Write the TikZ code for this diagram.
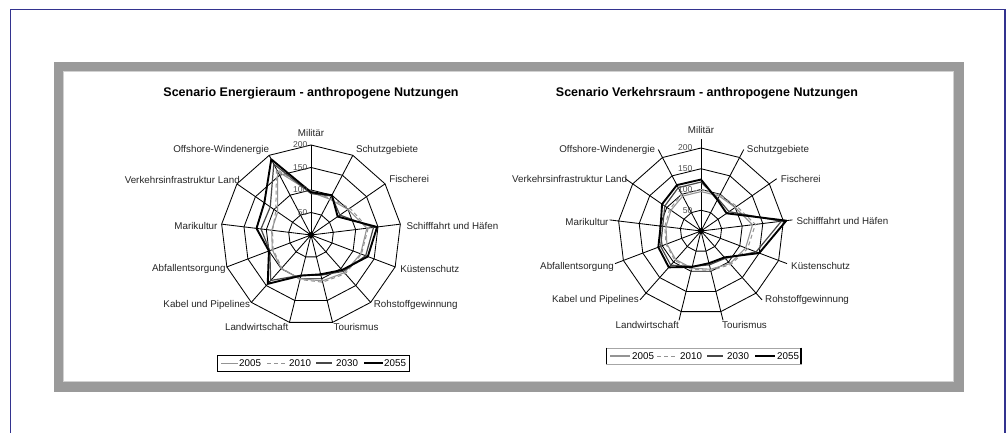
\documentclass[tikz,border=0pt]{standalone}
\usepackage{fontspec}
\setmainfont{Liberation Sans}
\definecolor{frameblue}{HTML}{33338F}
\definecolor{framegray}{HTML}{9A9A9A}
\tikzset{
  gridline/.style={black, line width=0.85pt, line join=round},
  ser2005/.style={black!42, line width=1.1pt, line join=round},
  ser2010/.style={black!42, line width=1.0pt, dash pattern=on 4pt off 3pt},
  ser2030/.style={black!72, line width=1.2pt, line join=round},
  ser2055/.style={black, line width=1.9pt, line join=round},
  axlab/.style={font=\fontsize{9.8}{10}\selectfont, inner sep=1pt, text=black!85},
  ticklab/.style={font=\fontsize{8.5}{8.5}\selectfont, inner sep=0.5pt, text=black!70, anchor=east},
  charttitle/.style={font=\bfseries\fontsize{12.5}{13}\selectfont, inner sep=0pt},
  legtext/.style={font=\fontsize{9.8}{10}\selectfont, inner sep=0pt, anchor=west},
}
\newcommand\radarpoly[4]{%
  \foreach \v [count=\k from 0] in {#4} { \coordinate (#2\k) at (-90+\k*360/13:\v*#3); }
  \draw[#1] (#20)--(#21)--(#22)--(#23)--(#24)--(#25)--(#26)--(#27)--(#28)--(#29)--(#210)--(#211)--(#212)--cycle;
}
\begin{document}
\begin{tikzpicture}[x=1pt,y=-1pt]
\useasboundingbox (0,0) rectangle (1008,433);
% outer blue frame
\draw[frameblue, line width=1.4pt] (10.5,433) -- (10.5,9.5) -- (1005,9.5) -- (1005,433);
% gray frame
\fill[framegray] (54,62) rectangle (964,392);
\fill[white] (63,71) rectangle (954,382);
\draw[black!18, line width=1pt] (63.5,71.5) rectangle (953.5,381.5);

% ================= LEFT CHART =================
\node[charttitle] (tL) at (311,93) {Scenario Energieraum - anthropogene Nutzungen};
\begin{scope}[shift={(311,235)}]
  \coordinate (cL) at (0,0);
  \foreach \r in {50,100,150,200} {
    \radarpoly{gridline}{gL\r-}{0.45}{\r,\r,\r,\r,\r,\r,\r,\r,\r,\r,\r,\r,\r}
  }
  \foreach \k in {0,...,12} {
    \coordinate (aL\k) at (-90+\k*360/13:90);
    \draw[gridline] (cL) -- (aL\k);
  }
  \radarpoly{ser2005}{pLa}{0.45}{95,90,100,125,118,112,105,100,100,92,88,90,160}
  \radarpoly{ser2010}{pLb}{0.45}{98,92,105,128,120,115,108,102,98,90,86,95,165}
  \radarpoly{ser2030}{pLc}{0.45}{92,98,78,140,130,108,92,92,135,98,112,110,178}
  \radarpoly{ser2055}{pLd}{0.45}{95,100,72,148,135,104,90,93,145,100,122,126,190}
  \fill (cL) circle (3pt);
  \node[ticklab] (tkL200) at (-3,-90) {200};
  \node[ticklab] (tkL150) at (-3,-67.5) {150};
  \node[ticklab] (tkL100) at (-3,-45) {100};
  \node[ticklab] (tkL50) at (-3,-22.5) {50};
  \node[axlab, anchor=south] (lL0) at (-90:97) {Militär};
  \node[axlab, anchor=south west, xshift=2] (lL1) at (aL1) {Schutzgebiete};
  \node[axlab, anchor=south west, xshift=3] (lL2) at (aL2) {Fischerei};
  \node[axlab, anchor=west, xshift=5, yshift=-2] (lL3) at (aL3) {Schifffahrt und Häfen};
  \node[axlab, anchor=west, xshift=4, yshift=-2] (lL4) at (aL4) {Küstenschutz};
  \node[axlab, anchor=west, xshift=2, yshift=-3] (lL5) at (aL5) {Rohstoffgewinnung};
  \node[axlab, anchor=north west] (lL6) at (aL6) {Tourismus};
  \node[axlab, anchor=north east] (lL7) at (aL7) {Landwirtschaft};
  \node[axlab, anchor=east, yshift=-3] (lL8) at (aL8) {Kabel und Pipelines};
  \node[axlab, anchor=east, yshift=-2] (lL9) at (aL9) {Abfallentsorgung};
  \node[axlab, anchor=east, xshift=-3, yshift=-2] (lL10) at (aL10) {Marikultur};
  \node[axlab, anchor=east, xshift=4, yshift=4] (lL11) at (aL11) {Verkehrsinfrastruktur Land};
  \node[axlab, anchor=south east, xshift=1] (lL12) at (aL12) {Offshore-Windenergie};
\end{scope}
% left legend
\draw[black, line width=0.8pt] (217,355) rectangle (409,371);
\draw[black, line width=1.3pt] (409.6,356) -- (409.6,371.6) -- (218,371.6);
\coordinate (lgLa1) at (221,363); \coordinate (lgLa2) at (238,363);
\coordinate (lgLb1) at (267,363); \coordinate (lgLb2) at (287,363);
\coordinate (lgLc1) at (316,363); \coordinate (lgLc2) at (332,363);
\coordinate (lgLd1) at (364,363); \coordinate (lgLd2) at (383,363);
\draw[ser2005, line width=0.9pt] (lgLa1) -- (lgLa2);
\draw[ser2010] (lgLb1) -- (lgLb2);
\draw[ser2030] (lgLc1) -- (lgLc2);
\draw[ser2055] (lgLd1) -- (lgLd2);
\node[legtext] (ltLa) at (239,363) {2005};
\node[legtext] (ltLb) at (289,363) {2010};
\node[legtext] (ltLc) at (336,363) {2030};
\node[legtext] (ltLd) at (384,363) {2055};

% ================= RIGHT CHART =================
\node[charttitle] (tR) at (707,93) {Scenario Verkehrsraum - anthropogene Nutzungen};
\begin{scope}[shift={(701,231)}]
  \coordinate (cR) at (0,0);
  \foreach \r in {50,100,150,200} {
    \radarpoly{gridline}{gR\r-}{0.415}{\r,\r,\r,\r,\r,\r,\r,\r,\r,\r,\r,\r,\r}
  }
  \foreach \k in {0,...,12} {
    \coordinate (aR\k) at (-90+\k*360/13:92);
    \draw[gridline] (cR) -- (aR\k);
  }
  \radarpoly{ser2005}{pRa}{0.415}{95,95,100,125,115,105,95,92,92,88,85,88,95}
  \radarpoly{ser2010}{pRb}{0.415}{100,98,105,132,120,108,98,95,95,90,88,92,100}
  \radarpoly{ser2030}{pRc}{0.415}{118,88,82,195,142,88,84,88,110,104,93,106,118}
  \radarpoly{ser2055}{pRd}{0.415}{124,85,75,207,150,85,80,89,117,110,98,114,125}
  \fill (cR) circle (3pt);
  \node[ticklab] (tkR200) at (-8,-83) {200};
  \node[ticklab] (tkR150) at (-8,-62.25) {150};
  \node[ticklab] (tkR100) at (-8,-41.5) {100};
  \node[ticklab] (tkR50) at (-8,-20.75) {50};
  \node[axlab, anchor=south] (lR0) at (-90:96) {Militär};
  \node[axlab, anchor=west, xshift=2] (lR1) at (aR1) {Schutzgebiete};
  \node[axlab, anchor=west, xshift=3] (lR2) at (aR2) {Fischerei};
  \node[axlab, anchor=west, xshift=3, yshift=-1] (lR3) at (aR3) {Schifffahrt und Häfen};
  \node[axlab, anchor=west, xshift=3, yshift=-2] (lR4) at (aR4) {Küstenschutz};
  \node[axlab, anchor=west, xshift=2] (lR5) at (aR5) {Rohstoffgewinnung};
  \node[axlab, anchor=north west, xshift=-2] (lR6) at (aR6) {Tourismus};
  \node[axlab, anchor=north east, xshift=1] (lR7) at (aR7) {Landwirtschaft};
  \node[axlab, anchor=east] (lR8) at (aR8) {Kabel und Pipelines};
  \node[axlab, anchor=east, yshift=-3] (lR9) at (aR9) {Abfallentsorgung};
  \node[axlab, anchor=east, yshift=-2] (lR10) at (aR10) {Marikultur};
  \node[axlab, anchor=east, xshift=3] (lR11) at (aR11) {Verkehrsinfrastruktur Land};
  \node[axlab, anchor=east, xshift=-2] (lR12) at (aR12) {Offshore-Windenergie};
\end{scope}
% right legend
\draw[black!35, line width=0.8pt] (606,348) rectangle (801,364);
\draw[black, line width=1pt] (606,347.6) -- (606,364.4);
\draw[black, line width=1.2pt] (801,347.6) -- (801,364.4);
\coordinate (lgRa1) at (610,356); \coordinate (lgRa2) at (630,356);
\coordinate (lgRb1) at (657,356); \coordinate (lgRb2) at (677,356);
\coordinate (lgRc1) at (707,356); \coordinate (lgRc2) at (723,356);
\coordinate (lgRd1) at (755,356); \coordinate (lgRd2) at (775,356);
\draw[ser2005, line width=1.6pt] (lgRa1) -- (lgRa2);
\draw[ser2010] (lgRb1) -- (lgRb2);
\draw[ser2030] (lgRc1) -- (lgRc2);
\draw[ser2055] (lgRd1) -- (lgRd2);
\node[legtext] (ltRa) at (632,356) {2005};
\node[legtext] (ltRb) at (680,356) {2010};
\node[legtext] (ltRc) at (727,356) {2030};
\node[legtext] (ltRd) at (777,356) {2055};
\end{tikzpicture}
\end{document}
